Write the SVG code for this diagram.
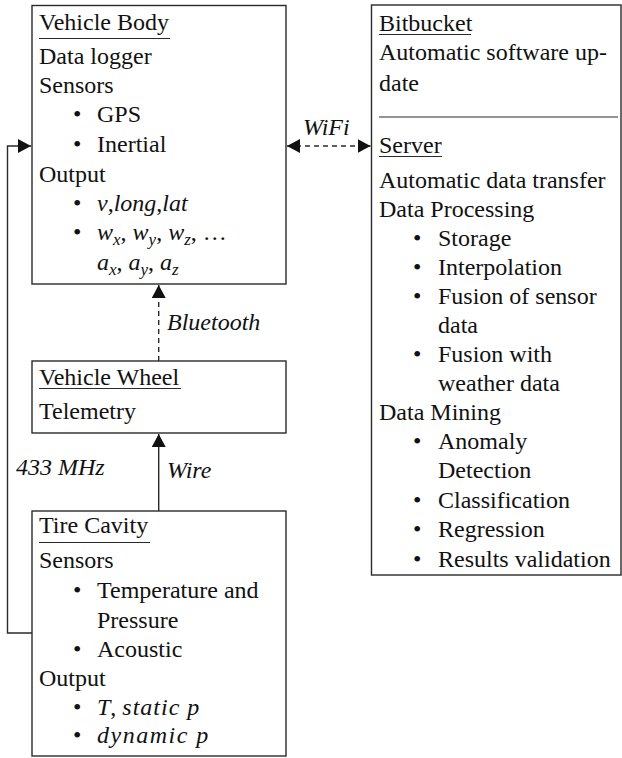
<svg xmlns="http://www.w3.org/2000/svg" width="622" height="758" viewBox="0 0 622 758" font-family="Liberation Serif, Times New Roman, serif" font-size="24">
<defs>
<style>
text{fill:#111}
.i{font-style:italic}
.s{font-size:17px}
.box{fill:#fff;stroke:#2a2a2a;stroke-width:1.4}
.ul{stroke:#2a2a2a;stroke-width:1.2}
.c{fill:none;stroke:#2a2a2a;stroke-width:1.4}
.d{stroke-dasharray:5,4}
</style>
<marker id="ah" viewBox="0 0 13 14" refX="13" refY="7" markerWidth="13" markerHeight="14" markerUnits="userSpaceOnUse" orient="auto-start-reverse">
<path d="M0,0 L13,7 L0,14 z" fill="#111"/>
</marker>
</defs>
<g id="connectors">
<polyline class="c" points="32,633 7.5,633 7.5,146 31,146" marker-end="url(#ah)"/>
<line class="c d" x1="158.7" y1="361" x2="158.7" y2="285" marker-end="url(#ah)"/>
<line class="c" x1="158.7" y1="511" x2="158.7" y2="434" marker-end="url(#ah)"/>
<line class="c d" x1="287" y1="146" x2="370.5" y2="146" marker-start="url(#ah)" marker-end="url(#ah)"/>
<text class="i" x="167" y="330">Bluetooth</text>
<text class="i" x="16" y="475">433 MHz</text>
<text class="i" x="167" y="478">Wire</text>
<text class="i" x="303" y="135">WiFi</text>
</g>
<g id="vehicle-body">
<rect class="box" x="32" y="5.5" width="254" height="278.5"/>
<text x="39" y="30">Vehicle Body</text>
<line class="ul" x1="39" y1="38.5" x2="170" y2="38.5"/>
<text x="39" y="64">Data logger</text>
<text x="39" y="93">Sensors</text>
<text x="73" y="122">•</text><text x="97" y="122">GPS</text>
<text x="73" y="151.5">•</text><text x="97" y="151.5">Inertial</text>
<text x="39" y="181.5">Output</text>
<text x="73" y="211">•</text><text x="97" y="211"><tspan class="i">v</tspan>,<tspan class="i">long</tspan>,<tspan class="i">lat</tspan></text>
<text x="73" y="240">•</text><text x="97" y="240"><tspan class="i">w</tspan><tspan class="i s" dy="5">x</tspan><tspan dy="-5">, </tspan><tspan class="i">w</tspan><tspan class="i s" dy="5">y</tspan><tspan dy="-5">, </tspan><tspan class="i">w</tspan><tspan class="i s" dy="5">z</tspan><tspan dy="-5">, …</tspan></text>
<text x="97" y="270"><tspan class="i">a</tspan><tspan class="i s" dy="5">x</tspan><tspan dy="-5">, </tspan><tspan class="i">a</tspan><tspan class="i s" dy="5">y</tspan><tspan dy="-5">, </tspan><tspan class="i">a</tspan><tspan class="i s" dy="5">z</tspan></text>
</g>
<g id="bitbucket-server">
<rect class="box" x="371.5" y="5" width="249.5" height="570"/>
<text x="379" y="31">Bitbucket</text>
<line class="ul" x1="379" y1="34.5" x2="471" y2="34.5"/>
<text x="379" y="60">Automatic software up-</text>
<text x="379" y="91">date</text>
<line class="ul" x1="379" y1="117" x2="618" y2="117"/>
<text x="379" y="152.5">Server</text>
<line class="ul" x1="379" y1="156.5" x2="442" y2="156.5"/>
<text x="379" y="188">Automatic data transfer</text>
<text x="379" y="216.5">Data Processing</text>
<text x="413" y="245.5">•</text><text x="438" y="245.5">Storage</text>
<text x="413" y="274.5">•</text><text x="438" y="274.5">Interpolation</text>
<text x="413" y="304">•</text><text x="438" y="304">Fusion of sensor</text>
<text x="438" y="333">data</text>
<text x="413" y="362">•</text><text x="438" y="362">Fusion with</text>
<text x="438" y="391">weather data</text>
<text x="379" y="420">Data Mining</text>
<text x="413" y="448.5">•</text><text x="438" y="448.5">Anomaly</text>
<text x="438" y="478">Detection</text>
<text x="413" y="507.5">•</text><text x="438" y="507.5">Classification</text>
<text x="413" y="537">•</text><text x="438" y="537">Regression</text>
<text x="413" y="566.5">•</text><text x="438" y="566.5">Results validation</text>
</g>
<g id="vehicle-wheel">
<rect class="box" x="32" y="361" width="254" height="72"/>
<text x="39" y="385">Vehicle Wheel</text>
<line class="ul" x1="39" y1="388.5" x2="181" y2="388.5"/>
<text x="39" y="419">Telemetry</text>
</g>
<g id="tire-cavity">
<rect class="box" x="32" y="511" width="254" height="245"/>
<text x="39" y="533">Tire Cavity</text>
<line class="ul" x1="39" y1="542.5" x2="150" y2="542.5"/>
<text x="39" y="568">Sensors</text>
<text x="73" y="597.5">•</text><text x="97" y="597.5">Temperature and</text>
<text x="97" y="627.5">Pressure</text>
<text x="73" y="656.5">•</text><text x="97" y="656.5">Acoustic</text>
<text x="39" y="685.5">Output</text>
<text x="73" y="714.5">•</text><text x="97" y="714.5"><tspan class="i">T</tspan>, <tspan class="i" letter-spacing="1">static p</tspan></text>
<text x="73" y="743">•</text><text x="97" y="743" class="i" letter-spacing="1.5">dynamic p</text>
</g>
</svg>
